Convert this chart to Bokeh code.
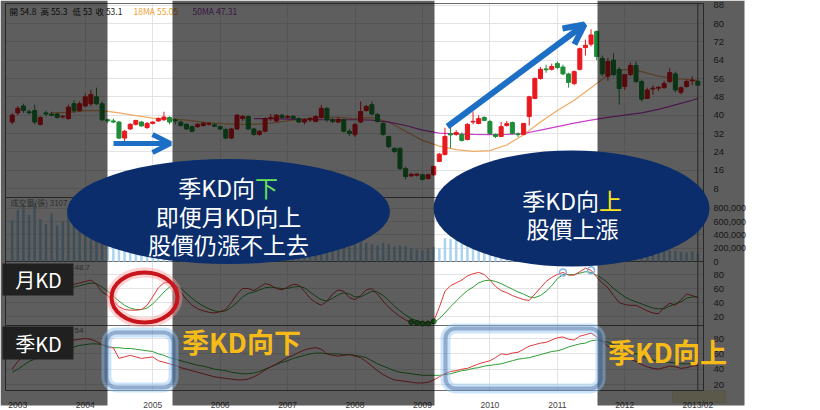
from bokeh.plotting import figure
from bokeh.models import (Range1d, LinearAxis, FixedTicker, NumeralTickFormatter, Grid,
                          BoxAnnotation, Label, Arrow, OpenHead, ColumnDataSource)
from bokeh.embed import file_html
from bokeh.resources import INLINE

# ---------------- data (monthly candles, index 0 = Jan 2003) ----------------
FIRST_MONTH = -1
OPEN = [37, 41, 44, 41.5, 42, 36, 41, 40.5, 40.5, 39.2, 38.5,
        45, 42, 44, 45, 48, 45, 38, 37.5, 37, 30,
        34, 36, 37, 34.6, 36.4, 37.5, 38, 39, 38, 37,
        36, 35, 35, 35.5, 36, 35.8, 35, 33.7, 30, 34,
        38.5, 39.4, 34, 31.6, 33, 38.5, 37.5, 40, 39, 39.5,
        38.5, 37, 38, 37.2, 39, 43, 38, 37, 38, 33,
        31.5, 37, 42, 44.6, 40.3, 36.4, 30.7, 25.5, 25.5, 16.7,
        13.5, 13.8, 14, 12.3, 14, 19.8, 22.8, 32, 31.6, 31.6,
        29.4, 37, 36.4, 39, 37.2, 31.6, 30.7, 35.5, 36.8, 31.8,
        31.6, 39.4, 47.3, 56, 60.2, 60, 62.5, 61, 58, 53.8,
        60, 69.5, 71, 76.5, 64.7, 57, 64, 60, 52.5, 57.7,
        61.7, 54.7, 47.3, 51.4, 51.8, 52, 54.7, 58, 50, 52.5,
        55, 54.8]
HIGH = [41, 44, 45, 42.5, 44.6, 39.5, 42, 41.5, 41, 40, 44.6,
        46.5, 46, 49.5, 51, 52, 46, 38.5, 38.5, 37.5, 33.5,
        36.5, 38, 37.5, 37, 37.3, 39, 41.5, 39.5, 38.5, 37.5,
        36.5, 35.5, 36.5, 37, 36.8, 36.5, 35.5, 34.5, 34.5, 40.5,
        40, 40, 34.5, 33.5, 39, 40.5, 40.5, 40.5, 40, 40,
        39, 38.5, 39, 40, 44.5, 43.5, 38.8, 39, 38.5, 34,
        36.5, 46, 44.5, 46, 41, 37, 31, 26, 26, 17.5,
        14.8, 14.5, 14.5, 14.5, 18, 23.5, 34.5, 35, 33.5, 32.5,
        36.5, 41.6, 40, 39.5, 38, 32, 37, 37.5, 37.2, 32.5,
        36.5, 48.5, 56.5, 61, 62, 62.5, 63.5, 62, 58.5, 59.5,
        69.5, 73, 77.5, 77, 66, 65, 67, 61, 58, 63,
        63.5, 55.5, 52, 53, 52.5, 55, 60.5, 59, 52.5, 55.5,
        57, 55.3]
LOW = [36, 40, 41, 40.5, 36, 35.5, 39.5, 39.5, 38.5, 38.5, 38,
       41, 41.5, 43.5, 44, 44.5, 37.5, 36.5, 36.5, 29.5, 27.5,
       33.5, 35.5, 35, 34, 36, 37, 37.5, 36, 36, 35,
       33.5, 32.5, 34.5, 35, 35.5, 34.8, 33.5, 29.5, 29.5, 33.5,
       37.5, 33.5, 31, 31, 32.5, 37.5, 37, 38.5, 38.5, 38,
       36.5, 36, 37, 37, 38.5, 37, 36.5, 36.5, 32.5, 31,
       30.5, 36.5, 41.5, 40, 36.8, 31, 25.5, 23.5, 16, 12,
       13, 13.2, 11.5, 12, 13.5, 19.5, 22.5, 25.5, 31, 28.5,
       29, 36, 36, 37.5, 31.5, 30, 30.5, 35, 31.5, 30.5,
       31.2, 35.5, 47, 55.5, 58.5, 59.5, 60, 57.5, 52, 53,
       59.5, 66, 70, 64, 57, 55, 57, 44.6, 51, 57,
       54, 46, 47, 49, 50.5, 51.5, 54, 50, 49, 52,
       53, 53]
CLOSE = [40, 43, 42, 41, 37, 39, 40.5, 40, 39, 39.5, 43.5,
         42, 45, 48, 49, 45, 38, 37.5, 37, 30, 33,
         36, 37.7, 35.3, 36.4, 37, 38.5, 39.2, 37, 37.5, 35.5,
         34, 33, 36, 36.5, 36.3, 35.2, 34, 30, 34, 40,
         39.5, 34, 31.6, 33, 38.5, 39, 40, 39, 39.5, 38.5,
         37, 38, 38.5, 39.4, 43, 38, 37.2, 38.2, 33, 32,
         36, 41.6, 43.8, 40.5, 37.2, 31.6, 26.3, 24.2, 16.7, 13.2,
         14.2, 14.3, 12, 14, 17.6, 23, 30.7, 31.4, 32.4, 29,
         36, 37.3, 38.5, 37.7, 32, 30.7, 35, 36.3, 32, 31.5,
         36.4, 48, 56, 60, 59.8, 61.2, 60.8, 58, 54.3, 59,
         69, 70.5, 75, 65.6, 58, 63.4, 57.7, 51.6, 57.7, 61.7,
         54.7, 47, 51, 51.8, 52.2, 53.8, 58.6, 51, 52, 54.7,
         55.3, 53.1]
VOLUME = [620e3, 780e3, 850e3, 700e3, 880e3, 640e3, 560e3, 720e3, 540e3, 600e3, 760e3,
          820e3, 600e3, 700e3, 900e3, 650e3, 520e3, 480e3, 420e3, 520e3, 380e3,
          300e3, 260e3, 240e3, 280e3, 250e3, 300e3, 350e3, 280e3, 260e3, 240e3,
          280e3, 300e3, 220e3, 260e3, 240e3, 200e3, 220e3, 310e3, 280e3, 350e3,
          300e3, 280e3, 260e3, 240e3, 300e3, 280e3, 260e3, 240e3, 220e3, 250e3,
          230e3, 240e3, 260e3, 230e3, 280e3, 300e3, 260e3, 240e3, 280e3, 220e3,
          260e3, 300e3, 280e3, 260e3, 240e3, 280e3, 260e3, 220e3, 240e3, 230e3,
          200e3, 180e3, 170e3, 190e3, 220e3, 200e3, 350e3, 340e3, 330e3, 320e3,
          300e3, 280e3, 260e3, 220e3, 200e3, 180e3, 150e3, 160e3, 140e3, 150e3,
          160e3, 300e3, 320e3, 280e3, 240e3, 220e3, 200e3, 220e3, 210e3, 230e3,
          260e3, 240e3, 220e3, 260e3, 240e3, 220e3, 200e3, 210e3, 190e3, 180e3,
          170e3, 200e3, 180e3, 160e3, 150e3, 160e3, 170e3, 160e3, 150e3, 140e3,
          150e3, 120e3]
# monthly KD
MKD_K = [58, 60, 62, 63, 58, 55, 56, 58, 60, 59, 62, 66, 68, 70, 72, 66, 55,
         50, 42, 34, 30, 29, 29, 30, 36, 48, 61, 68, 69,
         66, 55, 44, 36, 31, 28, 26, 25, 27, 30, 40, 52, 60, 60, 57, 62, 67, 65,
         60, 58, 62, 66, 65, 56, 46, 40, 36, 42, 52, 58, 56, 47, 44, 50, 58, 60, 52, 42, 33, 26, 20, 15, 12, 11,
         10, 10, 13,
         33, 56, 64, 68, 72, 78, 81, 83, 80, 72, 63, 57, 54, 50, 47, 44, 43, 52, 61, 70,
         76, 80, 83, 79, 79, 84, 89, 86, 76, 68, 61, 50, 40, 37, 36, 36, 32, 28, 25, 24,
         33, 39, 36, 44, 52, 50, 47]
MKD_D = [56, 58, 60, 61, 60, 58, 57, 57, 58, 59, 60, 62, 64, 66, 68, 67, 62,
         56, 49, 42, 36, 32, 30, 30, 32, 38, 46, 55, 62,
         64, 60, 53, 46, 40, 35, 31, 28, 27, 28, 33, 40, 48, 53, 55, 58, 61, 62,
         61, 60, 60, 62, 63, 61, 55, 49, 44, 42, 46, 51, 54, 52, 48, 48, 52, 56, 55, 50, 43, 35, 28, 22, 17, 14,
         12, 11, 11,
         17, 25, 34, 42, 50, 57, 62, 68, 71, 72, 70, 67, 63, 59, 55, 52, 48, 47, 50, 56,
         64, 74, 80, 80, 80, 82, 84, 83, 79, 74, 68, 60, 54, 48, 44, 41, 38, 35, 32, 31,
         31, 35, 38, 41, 46, 48, 48]
MKD_LOW_MARKS = [70, 71, 72, 73, 74]
MKD_HIGH_MARKS = [97, 102]
# quarterly KD
QKD_K = [40, 50, 58, 60, 61, 63, 66, 70, 72, 74, 76,
         78, 79, 80, 79, 76, 72, 68, 68, 54, 56,
         58, 56, 54, 55, 56, 51, 49, 47, 45, 42,
         40, 38, 36, 34, 32, 30, 29, 28, 27, 26,
         26, 27, 30, 34, 39, 43, 47, 51, 55, 58,
         62, 65, 67, 68, 66, 60, 58, 57, 58, 59,
         57, 55, 50, 44, 38, 33, 29, 26, 25, 24,
         23, 22, 22, 23, 26, 30, 34, 37, 38, 40,
         41, 44, 47, 49, 51, 55, 60, 59, 61, 62,
         66, 70, 72, 74, 75, 78, 81, 82, 79, 78,
         83, 85, 87, 82, 76, 70, 64, 60, 56, 53,
         50, 46, 43, 41, 40, 42, 44, 43, 41, 42,
         44, 45]
QKD_D = [36, 40, 45, 50, 53, 56, 58, 61, 63, 65, 67,
         69, 71, 72, 73, 73, 72, 70, 68, 68, 67,
         67, 66, 65, 64, 63, 60, 58, 55, 53, 51,
         49, 47, 45, 44, 42, 40, 39, 38, 36, 35,
         34, 34, 35, 37, 40, 43, 46, 49, 51, 54,
         56, 58, 60, 61, 61, 60, 60, 60, 59, 59,
         58, 57, 55, 51, 47, 44, 41, 38, 36, 35,
         34, 33, 32, 32, 32, 32, 33, 34, 36, 38,
         39, 41, 42, 44, 45, 46, 47, 49, 51, 53,
         54, 55, 57, 59, 61, 63, 64, 66, 69, 71,
         73, 74, 77, 78, 77, 75, 72, 69, 66, 63,
         60, 57, 54, 52, 50, 49, 49, 48, 47, 47,
         47, 47]
MA18_M = [6, 9, 12, 15, 18, 21, 24, 27, 30, 33, 36, 39, 42, 45, 48, 51, 54, 57, 60, 63, 66, 69,
          72, 75, 78, 81, 84, 87, 90, 93, 96, 99, 102, 105, 108, 111, 114, 117, 120, 121]
MA18 = [41, 41.2, 42, 42, 41, 39.8, 38.7, 38.3, 37.8, 37, 36.3, 36, 36, 36.5, 37.5, 38.5,
        39, 39, 38.5, 39, 37, 33, 29, 26.5, 25, 24.2, 24.5, 27, 31.5, 37, 42, 46.5, 52,
        57.5, 60, 59, 57, 56, 55.3, 55.05]
MA50_M = [42, 45, 48, 51, 54, 57, 60, 63, 66, 69, 72, 75, 78, 81, 84, 87, 90, 93, 96, 99,
          102, 105, 108, 111, 114, 117, 120, 121]
MA50 = [38.5, 38.5, 38.3, 38, 38, 38, 38, 37.8, 37, 35.5, 33.5, 32.2, 31.8, 31.6, 31.5, 31.6,
        32, 33.5, 35, 36.5, 37.8, 39, 40, 41, 42.5, 44.5, 46.5, 47.31]
YEAR_TICKS = [0, 12, 24, 36, 48, 60, 72, 84, 96, 108, 121]
YEAR_LABELS = ["2003", "2004", "2005", "2006", "2007", "2008", "2009", "2010", "2011", "2012", "2013/02"]
PRICE_TICKS = [8, 16, 24, 32, 40, 48, 56, 64, 72, 80, 88]
VOL_TICKS = [0, 200000, 400000, 600000, 800000]
KD_TICKS = [20, 40, 60, 80]

# ---------------- layout (coordinates in picture pixels) ----------------
W, H = 820, 410
REF_MONTH, REF_PX, PX_PER_MONTH = 84, 489.4, 5.62
PL, PR = 5, 703
UP, DOWN = "#e8191f", "#1e8c38"


def lin_range(px_a, v_a, px_b, v_b):
    k = (v_b - v_a) / (px_b - px_a)
    return Range1d(start=v_a + (H - px_a) * k, end=v_a + (0 - px_a) * k)


p = figure(width=W, height=H, x_range=Range1d(0, W), y_range=Range1d(H, 0),
           x_axis_type=None, y_axis_type=None, toolbar_location=None,
           output_backend="svg", min_border=0, outline_line_color=None,
           background_fill_color="white", border_fill_color="white")
p.extra_x_ranges = {"month": Range1d(start=REF_MONTH + (0 - REF_PX) / PX_PER_MONTH,
                                     end=REF_MONTH + (W - REF_PX) / PX_PER_MONTH)}
p.extra_y_ranges = {
    "price": lin_range(23, 80, 188, 8),
    "vol": lin_range(261, 0, 207.8, 800000),
    "mkd": lin_range(274, 80, 316, 20),
    "qkd": lin_range(338, 80, 384, 20),
}

GRID_C = "#e3e3e3"
for rn, ticks in [("price", PRICE_TICKS), ("vol", VOL_TICKS[1:]), ("mkd", KD_TICKS), ("qkd", KD_TICKS)]:
    p.add_layout(Grid(dimension=1, ticker=FixedTicker(ticks=ticks), y_range_name=rn,
                      cross_bounds=(PL, PR), grid_line_color=GRID_C))
p.add_layout(Grid(dimension=0, ticker=FixedTicker(ticks=YEAR_TICKS[1:-1]), x_range_name="month",
                  cross_bounds=(3, 390), grid_line_color=GRID_C))

# label box under "2013/02"
p.add_layout(BoxAnnotation(left=672, right=725, top=390, bottom=402, fill_color="#f6f1c6",
                           fill_alpha=1, line_color="#b8b8b8", level="underlay"))

months = [FIRST_MONTH + k for k in range(len(CLOSE))]
src = ColumnDataSource(dict(
    m=months, o=OPEN, h=HIGH, l=LOW, c=CLOSE,
    top=[max(o, c) for o, c in zip(OPEN, CLOSE)],
    bot=[min(o, c) for o, c in zip(OPEN, CLOSE)],
    color=[UP if c >= o else DOWN for o, c in zip(OPEN, CLOSE)],
    vol=VOLUME, mk=MKD_K, md=MKD_D, qk=QKD_K, qd=QKD_D))

# panel frames
p.quad(left=[PL] * 4, right=[PR] * 4, top=[3, 197, 261, 325], bottom=[197, 261, 325, 390],
       fill_color=None, line_color="#6a6a6a", line_width=1)

# volume
p.vbar(x="m", top="vol", bottom=0, width=0.45, fill_color="#a9d3ef", line_color=None,
       source=src, x_range_name="month", y_range_name="vol")
# moving averages
p.line(MA18_M, MA18, line_color="#f0aa62", line_width=1.2, x_range_name="month", y_range_name="price")
p.line(MA50_M, MA50, line_color="#c93fc9", line_width=1.2, x_range_name="month", y_range_name="price")
# candles
p.segment(x0="m", y0="l", x1="m", y1="h", line_color="color", line_width=1, source=src,
          x_range_name="month", y_range_name="price")
p.vbar(x="m", top="top", bottom="bot", width=0.72, fill_color="color", line_color="color",
       source=src, x_range_name="month", y_range_name="price")
# monthly KD
p.line("m", "md", line_color="#2f9e35", line_width=1, source=src, x_range_name="month", y_range_name="mkd")
p.line("m", "mk", line_color="#e0393a", line_width=1, source=src, x_range_name="month", y_range_name="mkd")
p.scatter(MKD_LOW_MARKS, [MKD_K[months.index(i)] for i in MKD_LOW_MARKS],
          size=5, fill_color="#3d9a3d", line_color="#256b25", x_range_name="month", y_range_name="mkd")
p.scatter(MKD_HIGH_MARKS, [MKD_K[months.index(i)] for i in MKD_HIGH_MARKS],
          size=7, fill_color=None, line_color="#7fb4e8", line_width=1.5, x_range_name="month", y_range_name="mkd")
# quarterly KD
p.line("m", "qd", line_color="#2f9e35", line_width=1, source=src, x_range_name="month", y_range_name="qkd")
p.line("m", "qk", line_color="#e0393a", line_width=1, source=src, x_range_name="month", y_range_name="qkd")
# cursor at last bar
p.segment(x0=[months[-1]], x1=[months[-1]], y0=[3], y1=[390], line_color="#666666",
          x_range_name="month")

# axes (drawn inside the canvas)
AX_FONT = "Liberation Sans"
def right_axis(rn, ticks, fmt=None, size="9.5px"):
    ax = LinearAxis(y_range_name=rn, fixed_location=PR, ticker=FixedTicker(ticks=ticks),
                    axis_line_color=None, major_tick_line_color=None, minor_tick_line_color=None,
                    major_label_standoff=4, major_label_text_font=AX_FONT,
                    major_label_text_font_size=size, major_label_text_color="#444444")
    if fmt:
        ax.formatter = fmt
    p.add_layout(ax, "right")

right_axis("price", PRICE_TICKS)
right_axis("vol", VOL_TICKS, NumeralTickFormatter(format="0,0"), "9px")
right_axis("mkd", KD_TICKS)
right_axis("qkd", KD_TICKS)
xax = LinearAxis(x_range_name="month", fixed_location=390, ticker=FixedTicker(ticks=YEAR_TICKS),
                 major_label_overrides=dict(zip(YEAR_TICKS, YEAR_LABELS)),
                 axis_line_color=None, major_tick_line_color=None, minor_tick_line_color=None,
                 major_label_standoff=3, major_label_text_font=AX_FONT,
                 major_label_text_font_size="8.5px", major_label_text_color="#444444")
p.add_layout(xax, "below")

# small legends
CJK = "Noto Sans CJK TC"
for txt, x in [(f"開 {OPEN[-1]:g}", 9), (f"高 {HIGH[-1]:g}", 40), (f"低 {LOW[-1]:g}", 72), (f"收 {CLOSE[-1]:g}", 95)]:
    p.add_layout(Label(x=x, y=10, text=txt, text_font=CJK, text_font_size="8.5px",
                       text_color="#222222", text_baseline="middle"))
p.add_layout(Label(x=133, y=10, text=f"18MA {MA18[-1]:g}", text_font=CJK, text_font_size="8.5px",
                   text_color="#f0a030", text_baseline="middle"))
p.add_layout(Label(x=192, y=10, text=f"50MA {MA50[-1]:g}", text_font=CJK, text_font_size="8.5px",
                   text_color="#9b3fb5", text_baseline="middle"))
p.add_layout(Label(x=10, y=202, text="成交量(張) 3107", text_font=CJK, text_font_size="8px",
                   text_color="#777777", text_baseline="middle"))
p.add_layout(Label(x=74, y=267, text="48.7", text_font=AX_FONT, text_font_size="8px",
                   text_color="#777777", text_baseline="middle"))
p.add_layout(Label(x=74, y=330, text="54", text_font=AX_FONT, text_font_size="8px",
                   text_color="#777777", text_baseline="middle"))

# dark overlay outside the highlighted periods
for l, r in [(0, 107), (172, 434), (597, 744)]:
    p.add_layout(BoxAnnotation(left=l, right=r, top=0, bottom=405, fill_color="black",
                               fill_alpha=0.63, line_color=None))

# ---------------- overlays ----------------
NAVY = "#0b2d6b"
p.ellipse(x=[228, 571], y=[211, 208], width=[323, 276], height=[105, 116],
          width_units="screen", height_units="screen", fill_color=NAVY, line_color=None, level="overlay")
p.ellipse(x=[144], y=[297], width=[66], height=[50], width_units="screen", height_units="screen",
          fill_color=None, line_color="#ff9c9c", line_alpha=0.45, line_width=10, level="overlay")
p.ellipse(x=[144], y=[297], width=[66], height=[50], width_units="screen", height_units="screen",
          fill_color=None, line_color="#c8141c", line_width=4, level="overlay")

def lab(x, y, text, size, color, align="center", bold=False):
    p.add_layout(Label(x=x, y=y, text=text, text_font=CJK, text_font_size=size, text_color=color,
                       text_align=align, text_baseline="middle",
                       text_font_style="bold" if bold else "normal", level="overlay"))

lab(254.5, 186, "季KD向", "23px", "white", "right")
lab(254.5, 186, "下", "23px", "#6be35b", "left")
lab(228, 215, "即便月KD向上", "23px", "white")
lab(228, 243, "股價仍漲不上去", "23px", "white")
lab(598.5, 199, "季KD向", "23px", "white", "right")
lab(598.5, 199, "上", "23px", "#ffe61a", "left")
lab(572, 227, "股價上漲", "23px", "white")

BLUE = "#1c6fc4"
p.add_layout(Arrow(end=OpenHead(size=18, line_width=5, line_color=BLUE), x_start=113, y_start=143,
                   x_end=170, y_end=143, line_color=BLUE, line_width=5, level="overlay"))
p.add_layout(Arrow(end=OpenHead(size=20, line_width=6, line_color=BLUE), x_start=447, y_start=126,
                   x_end=584, y_end=24, line_color=BLUE, line_width=6, level="overlay"))

for (l, r, t, b) in [(106, 173, 332, 387), (445, 600, 328, 388)]:
    p.add_layout(BoxAnnotation(left=l, right=r, top=t, bottom=b, fill_alpha=0, line_color="#8fc3f2",
                               line_alpha=0.45, line_width=10, border_radius=10, level="overlay"))
    p.add_layout(BoxAnnotation(left=l, right=r, top=t, bottom=b, fill_alpha=0, line_color="#0a2a6a",
                               line_width=4, border_radius=10, level="overlay"))

for (t, b, text, cy) in [(263, 295, "月KD", 279), (326, 359, "季KD", 343)]:
    p.add_layout(BoxAnnotation(left=2, right=73, top=t, bottom=b, fill_color="#202020", fill_alpha=1,
                               line_color=None, level="overlay"))
    lab(38, cy, text, "20px", "white")

lab(241, 341, "季KD向下", "27px", "#f7bb18", bold=True)
lab(667, 351, "季KD向上", "27px", "#f7bb18", bold=True)

open("out.html", "w").write(file_html(p, INLINE))
